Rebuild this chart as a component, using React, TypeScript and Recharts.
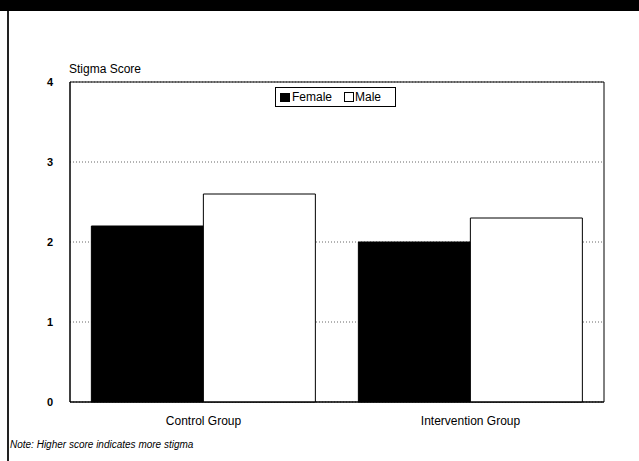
import { BarChart, Bar, XAxis, YAxis, CartesianGrid, ReferenceArea } from 'recharts';

const groups = ['Control Group', 'Intervention Group'];
const female = [2.2, 2.0];
const male = [2.6, 2.3];
const yTicks = [0, 1, 2, 3, 4];

const data = groups.map((name, i) => ({ name, female: female[i], male: male[i] }));

const font = '"Liberation Sans", Arial, sans-serif';

const LegendBox = () => (
  <div
    style={{
      position: 'absolute',
      left: 275,
      top: 87,
      width: 121,
      height: 20,
      boxSizing: 'border-box',
      display: 'flex',
      alignItems: 'center',
      border: '1px solid #000',
      background: '#fff',
      padding: '0 4px',
      fontSize: 12,
      color: '#000',
    }}
  >
    <span style={{ width: 10, height: 9, background: '#000', display: 'inline-block', marginRight: 2, flex: 'none' }} />
    <span>Female</span>
    <span
      style={{
        width: 8,
        height: 8,
        border: '1px solid #000',
        display: 'inline-block',
        marginLeft: 12,
        marginRight: 1,
        flex: 'none',
      }}
    />
    <span>Male</span>
  </div>
);

export default function App() {
  return (
    <div
      style={{
        position: 'absolute',
        left: 0,
        top: 0,
        width: 639,
        height: 461,
        background: '#fff',
        overflow: 'hidden',
        fontFamily: font,
      }}
    >
      {/* dark header band and left page edge */}
      <div style={{ position: 'absolute', left: 0, top: 0, width: 639, height: 11, background: '#000' }} />
      <div style={{ position: 'absolute', left: 7, top: 11, width: 2, height: 450, background: '#222' }} />

      <div style={{ position: 'absolute', left: 69, top: 62, fontSize: 12, color: '#000' }}>Stigma Score</div>

      <div style={{ position: 'absolute', left: 0, top: 0 }}>
        <BarChart
          width={639}
          height={461}
          data={data}
          margin={{ top: 82, right: 35, bottom: 0, left: 40 }}
          barCategoryGap="8%"
          barGap={0}
        >
          <CartesianGrid horizontal vertical={false} stroke="#666" strokeDasharray="1 2" />
          <XAxis
            dataKey="name"
            height={59}
            tickLine={false}
            axisLine={{ stroke: '#000' }}
            tick={{ fill: '#000', fontSize: 12, fontFamily: font }}
            tickMargin={8}
          />
          <YAxis
            width={30}
            domain={[0, 4]}
            ticks={yTicks}
            tickLine={false}
            axisLine={{ stroke: '#000' }}
            tick={{ fill: '#000', fontSize: 11, fontFamily: font, fontWeight: 'bold' }}
            tickMargin={11}
          />
          {/* plot frame */}
          <ReferenceArea y1={0} y2={4} fill="none" stroke="#000" strokeWidth={1} />
          <Bar dataKey="female" name="Female" fill="#000" stroke="#000" isAnimationActive={false} />
          <Bar dataKey="male" name="Male" fill="#fff" stroke="#000" isAnimationActive={false} />
        </BarChart>
      </div>

      <LegendBox />

      <div style={{ position: 'absolute', left: 10, top: 439, fontSize: 10, fontStyle: 'italic', color: '#000' }}>
        Note: Higher score indicates more stigma
      </div>
    </div>
  );
}
